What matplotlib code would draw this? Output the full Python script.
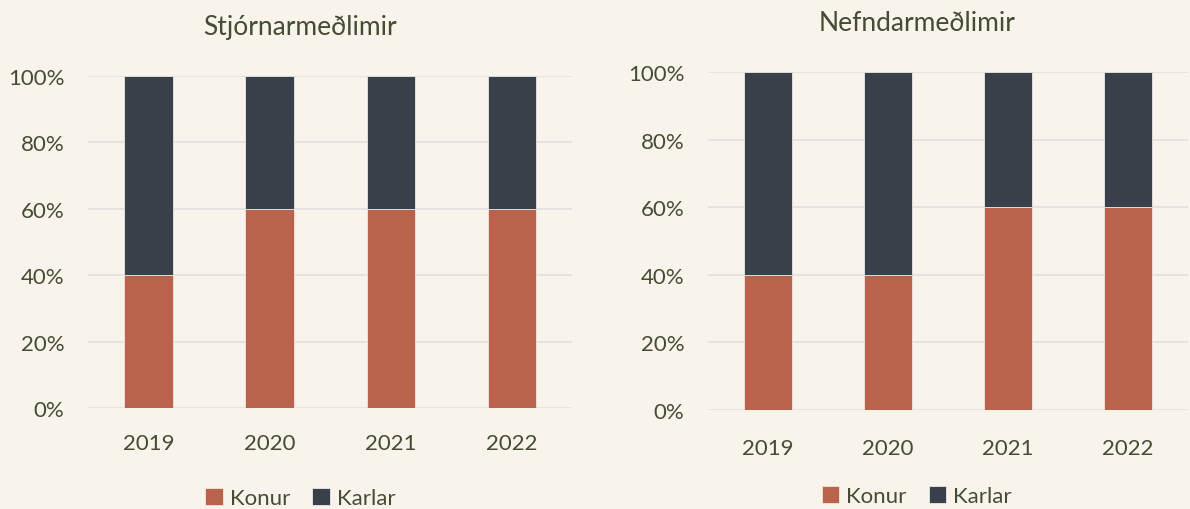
import numpy as np
import matplotlib.pyplot as plt
from matplotlib.ticker import PercentFormatter

years = ['2019', '2020', '2021', '2022']
stjorn_konur = [40, 60, 60, 60]
stjorn_karlar = [60, 40, 40, 40]
nefnd_konur = [40, 40, 60, 60]
nefnd_karlar = [60, 60, 40, 40]

BG = '#F8F4EC'
TXT = '#464B33'
KONUR = '#B9634D'
KARLAR = '#394049'
GRID = '#E2E2E2'

plt.rcParams['font.family'] = ['Lato', 'DejaVu Sans']

fig = plt.figure(figsize=(11.9, 5.1), dpi=100, facecolor=BG)

def draw(rect, title, konur, karlar, cx, title_y, leg_y, xpad):
    ax = fig.add_axes(rect, facecolor=BG)
    x = np.arange(len(years))
    ax.bar(x, konur, width=0.4, color=KONUR, edgecolor='#F3E4DE', linewidth=0.6,
           label='Konur', zorder=3)
    ax.bar(x, karlar, width=0.4, bottom=konur, color=KARLAR, edgecolor='#E8E8E8',
           linewidth=0.6, label='Karlar', zorder=3)
    ax.set_xlim(-0.5, 3.5)
    ax.set_ylim(0, 100)
    ax.set_yticks([0, 20, 40, 60, 80, 100])
    ax.yaxis.set_major_formatter(PercentFormatter(decimals=0))
    ax.set_xticks(x)
    ax.set_xticklabels(years)
    ax.grid(axis='y', color=GRID, linewidth=1.3, zorder=0)
    for s in ax.spines.values():
        s.set_visible(False)
    ax.tick_params(length=0, labelsize=16, colors=TXT)
    ax.tick_params(axis='x', pad=xpad)
    ax.tick_params(axis='y', pad=17)
    ax.text(cx, title_y, title, transform=ax.transAxes, ha='center', va='center',
            fontsize=19, color=TXT)
    ax.legend(loc='center', bbox_to_anchor=(cx, leg_y), ncol=2, frameon=False,
              fontsize=16, labelcolor=TXT, handlelength=0.8, handleheight=0.8,
              handletextpad=0.3, columnspacing=1.0)
    return ax

draw([0.074, 0.198, 0.407, 0.651], 'Stjórnarmeðlimir', stjorn_konur, stjorn_karlar,
     0.438, 1.148, -0.27, 18)
draw([0.595, 0.194, 0.403, 0.663], 'Nefndarmeðlimir', nefnd_konur, nefnd_karlar,
     0.435, 1.145, -0.255, 20)

fig.savefig('out.png', dpi=100, facecolor=BG)
